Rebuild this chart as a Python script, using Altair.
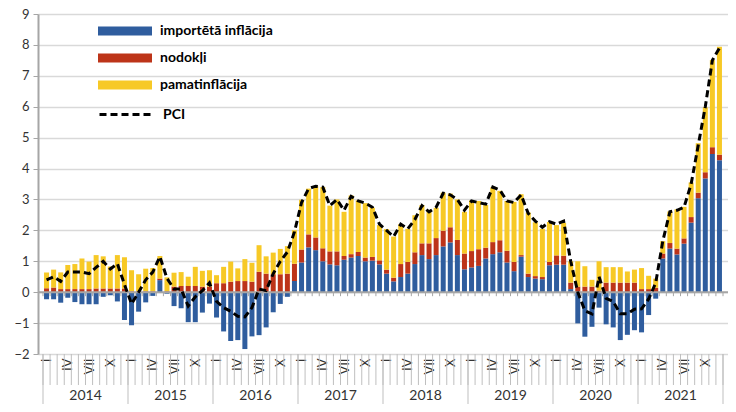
import altair as alt
import pandas as pd

years = [2014, 2015, 2016, 2017, 2018, 2019, 2020, 2021]
month_labels = ["I", "", "", "IV", "", "", "VII", "", "", "X", "", ""]

series = ["importētā inflācija", "nodokļi", "pamatinflācija"]
colors = ["#2f5d9e", "#bd3419", "#f7c926"]

blue = [
    -0.23, -0.23, -0.34, -0.18, -0.32, -0.39, -0.39, -0.39, -0.15, -0.10, -0.30, -0.90,
    -1.07, -0.63, -0.33, -0.12, 0.39, -0.05, -0.45, -0.52, -0.97, -0.97, -0.66, -0.37,
    -0.82, -1.27, -1.58, -1.55, -1.84, -1.43, -1.39, -1.14, -0.65, -0.38, -0.15, 0.36,
    0.96, 1.45, 1.36, 1.00, 0.90, 0.87, 1.05, 1.12, 1.17, 1.00, 1.02, 0.90,
    0.60, 0.35, 0.49, 0.60, 0.91, 1.20, 1.07, 1.20, 1.48, 1.61, 1.20, 0.74,
    0.80, 0.85, 1.09, 1.23, 1.29, 0.96, 0.68, 1.15, 0.49, 0.44, 0.42, 0.87,
    0.89, 0.89, 0.10, -1.01, -1.44, -1.12, -0.50, -1.04, -1.14, -1.55, -1.38, -1.23,
    -1.30, -0.74, -0.21, 1.09, 1.41, 1.22, 1.57, 2.25, 3.04, 3.68, 4.47, 4.27,
]
red = [
    0.13, 0.15, 0.10, 0.10, 0.10, 0.10, 0.10, 0.12, 0.12, 0.12, 0.12, 0.12,
    0.03, 0.03, 0.03, 0.03, 0.05, 0.03, 0.18, 0.20, 0.20, 0.20, 0.18, 0.18,
    0.29, 0.29, 0.34, 0.36, 0.36, 0.34, 0.66, 0.60, 0.58, 0.58, 0.60, 0.56,
    0.42, 0.42, 0.41, 0.42, 0.42, 0.45, 0.12, 0.11, 0.13, 0.12, 0.12, 0.13,
    0.13, 0.12, 0.42, 0.38, 0.38, 0.38, 0.51, 0.55, 0.51, 0.49, 0.49, 0.51,
    0.53, 0.54, 0.35, 0.39, 0.39, 0.38, 0.30, 0.05, 0.11, 0.08, 0.07, 0.11,
    0.30, 0.29, 0.21, 0.18, 0.18, 0.18, 0.05, 0.31, 0.31, 0.31, 0.31, 0.31,
    0.10, 0.10, 0.14, 0.16, 0.18, 0.19, 0.17, 0.18, 0.18, 0.20, 0.22, 0.18,
]
yellow = [
    0.51, 0.58, 0.54, 0.78, 0.81, 0.99, 0.89, 1.08, 1.04, 0.71, 1.08, 1.01,
    0.68, 0.55, 0.73, 0.75, 0.73, 0.45, 0.45, 0.45, 0.30, 0.62, 0.51, 0.53,
    0.26, 0.53, 0.65, 0.41, 0.71, 0.61, 0.86, 0.56, 0.70, 0.82, 0.89, 1.08,
    1.61, 1.48, 1.66, 1.98, 1.48, 1.68, 1.43, 1.90, 1.67, 1.76, 1.59, 1.14,
    1.31, 1.33, 1.29, 1.07, 1.20, 1.24, 1.02, 0.98, 1.23, 1.09, 1.31, 1.35,
    1.64, 1.56, 1.38, 1.77, 1.60, 1.61, 1.94, 1.97, 1.98, 1.74, 1.56, 1.29,
    0.98, 1.06, 0.69, 0.82, 0.66, 0.22, 0.95, 0.50, 0.50, 0.50, 0.36, 0.42,
    0.68, 0.43, 0.30, 0.40, 1.02, 1.27, 1.02, 1.12, 1.60, 2.10, 2.82, 3.49,
]
pci = [
    0.40, 0.50, 0.35, 0.65, 0.65, 0.65, 0.60, 0.80, 1.00, 0.75, 0.92, 0.25,
    -0.38, 0.00, 0.40, 0.65, 1.15, 0.45, 0.10, 0.10, -0.45, -0.15, 0.05, 0.30,
    -0.30, -0.50, -0.62, -0.78, -0.80, -0.50, 0.10, 0.05, 0.60, 1.00, 1.30, 1.95,
    2.90, 3.35, 3.43, 3.40, 2.80, 3.00, 2.65, 3.10, 2.95, 2.88, 2.75, 2.20,
    2.00, 1.80, 2.20, 2.05, 2.35, 2.80, 2.60, 2.75, 3.20, 3.15, 3.00, 2.65,
    2.95, 2.90, 2.85, 3.40, 3.30, 2.95, 2.90, 3.15, 2.55, 2.30, 2.10, 2.28,
    2.20, 2.30, 1.00, 0.00, -0.60, -0.70, 0.50, -0.20, -0.30, -0.70, -0.70, -0.55,
    -0.54, -0.22, 0.30, 1.65, 2.60, 2.65, 2.75, 3.50, 4.75, 6.00, 7.50, 7.90,
]

N = len(pci)
rows = []
for i in range(N):
    for k, (name, vals) in enumerate(zip(series, [blue, red, yellow])):
        rows.append({"c": i + 0.5, "k": k, "s": name, "v": vals[i]})
bars_df = pd.DataFrame(rows)
pci_df = pd.DataFrame({"c": [i + 0.5 for i in range(N)], "pci": pci, "s": "PCI"})
bound_df = pd.DataFrame({"b": list(range(N + 1))})
ystart_df = pd.DataFrame({"b": [12 * j for j in range(len(years) + 1)]})
ymid_df = pd.DataFrame({"c": [12 * j + 6 for j in range(len(years))], "t": [str(y) for y in years]})
zero_df = pd.DataFrame({"z0": [0]})

label_vals = [i + 0.5 for i in range(N) if month_labels[i % 12]]
label_expr = (
    "(datum.value - 0.5) % 12 == 0 ? 'I' : (datum.value - 0.5) % 12 == 3 ? 'IV' : "
    "(datum.value - 0.5) % 12 == 6 ? 'VII' : (datum.value - 0.5) % 12 == 9 ? 'X' : ''"
)

W, H = 690, 340
YMIN, YMAX = -2, 9

xscale = alt.Scale(domain=[0, N], nice=False, zero=False)
yscale = alt.Scale(domain=[YMIN, YMAX], nice=False, zero=False)
yaxis = alt.Axis(
    title=None, tickCount=11, grid=True,
    gridColor="#d9d9d9", gridWidth=1.5, domainColor="#a6a6a6", domainWidth=2,
    tickColor="#a6a6a6", tickSize=5, labelFontSize=13, labelColor="#333333",
    labelPadding=4,
)
xaxis = alt.Axis(
    title=None, values=label_vals, labelExpr=label_expr, labelAngle=270,
    ticks=False, domain=False, grid=False, labelPadding=4, labelFontSize=13,
    labelColor="#333333", labelOverlap=False, labelFlush=False,
)

bars = alt.Chart(bars_df).mark_bar(size=5).encode(
    x=alt.X("c:Q", scale=xscale, axis=xaxis),
    y=alt.Y("v:Q", stack="zero", scale=yscale, axis=yaxis),
    color=alt.Color("s:N", scale=alt.Scale(domain=series, range=colors), legend=alt.Legend(
        title=None, orient="none", legendX=78, legendY=8,
        symbolType="M-3,-0.5L3,-0.5L3,0.5L-3,0.5Z", symbolSize=324, symbolStrokeWidth=0,
        labelFontSize=14, labelFontWeight="bold", labelColor="#000000",
        labelOffset=26, rowPadding=11)),
    order=alt.Order("k:Q", sort="ascending"),
)

zero_line = alt.Chart(zero_df).mark_rule(color="#a6a6a6", strokeWidth=2).encode(
    y=alt.Y("z0:Q", scale=yscale, axis=yaxis),
)

zero_ticks = alt.Chart(bound_df).mark_rule(color="#a6a6a6", strokeWidth=1).encode(
    x=alt.X("b:Q", scale=xscale, axis=xaxis),
    y=alt.Y("z0:Q", scale=yscale, axis=yaxis),
    y2="z1:Q",
).transform_calculate(z0="0", z1="-0.13")

line = alt.Chart(pci_df).mark_line(color="#000000", strokeWidth=3).encode(
    x=alt.X("c:Q", scale=xscale, axis=xaxis),
    y=alt.Y("pci:Q", scale=yscale, axis=yaxis),
    strokeDash=alt.StrokeDash("s:N", scale=alt.Scale(domain=["PCI"], range=[[7, 4]]), legend=alt.Legend(
        title=None, orient="none", legendX=78, legendY=90,
        symbolType="M-3,0L3,0", symbolSize=324, symbolStrokeWidth=3,
        symbolStrokeColor="#000000", symbolDash=[7, 4],
        labelFontSize=14, labelFontWeight="bold", labelColor="#000000",
        labelOffset=26)),
)

month_ticks = alt.Chart(bound_df).mark_rule(color="#bfbfbf", strokeWidth=1).encode(
    x=alt.X("b:Q", scale=xscale, axis=xaxis),
    y=alt.value(H),
    y2=alt.value(H + 31),
)

seps = alt.Chart(ystart_df).mark_rule(color="#bfbfbf", strokeWidth=1).encode(
    x=alt.X("b:Q", scale=xscale, axis=xaxis),
    y=alt.value(H),
    y2=alt.value(H + 50),
)

ylabels = alt.Chart(ymid_df).mark_text(fontSize=14, color="#333333", baseline="middle").encode(
    x=alt.X("c:Q", scale=xscale, axis=xaxis),
    y=alt.value(H + 42),
    text="t:N",
)

chart = alt.layer(bars, zero_line, zero_ticks, line, month_ticks, seps, ylabels).properties(
    width=W, height=H,
    autosize=alt.AutoSizeParams(type="none"),
    padding={"left": 30, "top": 6, "right": 0, "bottom": 50},
).configure(font="Lato").configure_view(stroke="transparent")

chart.save("out.html", embed_options={"renderer": "svg", "actions": False})
